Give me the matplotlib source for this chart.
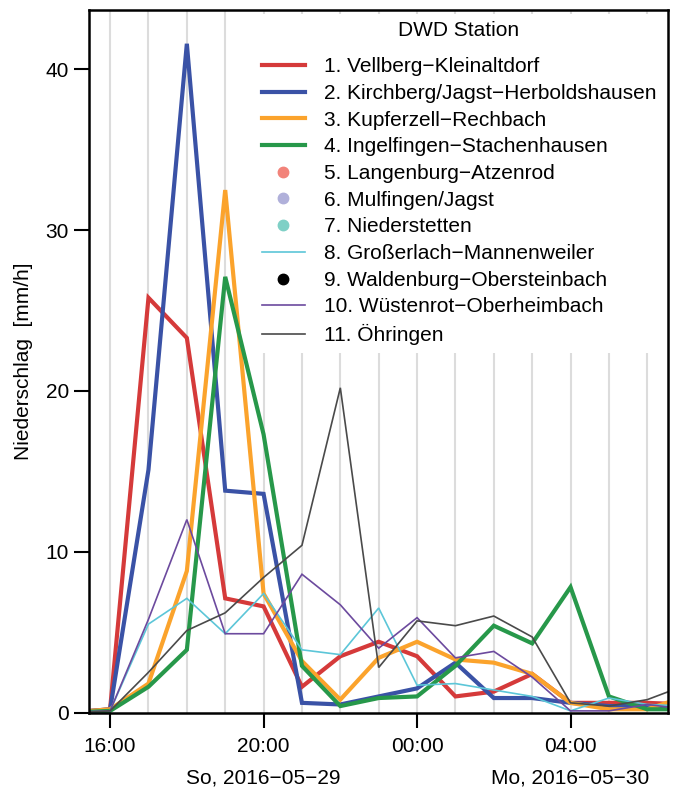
import matplotlib
matplotlib.use("Agg")
import matplotlib.pyplot as plt
import numpy as np

plt.rcParams['font.family'] = ['Liberation Sans', 'DejaVu Sans']

# hours since 2016-05-29 00:00, one value per hour
hours = list(range(15, 32))

vellberg     = [0.0, 0.2, 25.8, 23.3, 7.1, 6.6, 1.6, 3.5, 4.4, 3.5, 1.0, 1.3, 2.4, 0.6, 0.6, 0.6, 0.5]
kirchberg    = [0.0, 0.2, 15.1, 41.6, 13.8, 13.6, 0.6, 0.5, 1.0, 1.5, 3.1, 0.9, 0.9, 0.6, 0.4, 0.4, 0.4]
kupferzell   = [0.0, 0.2, 1.8, 8.8, 32.5, 7.4, 3.2, 0.8, 3.4, 4.4, 3.3, 3.1, 2.4, 0.6, 0.2, 0.2, 1.0]
ingelfingen  = [0.0, 0.1, 1.6, 3.9, 27.1, 17.3, 2.9, 0.4, 0.9, 1.0, 2.9, 5.4, 4.3, 7.8, 1.0, 0.2, 0.2]
langenburg   = []
mulfingen    = []
niederstetten = []
grosserlach  = [0.0, 0.1, 5.5, 7.1, 4.9, 7.4, 3.9, 3.6, 6.5, 1.7, 1.8, 1.4, 1.0, 0.1, 0.9, 0.5, 0.4]
waldenburg   = []
wuestenrot   = [0.0, 0.1, 5.8, 12.0, 4.9, 4.9, 8.6, 6.7, 4.0, 5.9, 3.4, 3.8, 2.2, 0.1, 0.1, 0.5, 0.2]
oehringen    = [0.0, 0.1, 2.5, 5.1, 6.2, 8.4, 10.4, 20.2, 2.8, 5.7, 5.4, 6.0, 4.7, 0.6, 0.4, 0.8, 1.7]

names = ["1. Vellberg\u2212Kleinaltdorf",
         "2. Kirchberg/Jagst\u2212Herboldshausen",
         "3. Kupferzell\u2212Rechbach",
         "4. Ingelfingen\u2212Stachenhausen",
         "5. Langenburg\u2212Atzenrod",
         "6. Mulfingen/Jagst",
         "7. Niederstetten",
         "8. Gro\u00dferlach\u2212Mannenweiler",
         "9. Waldenburg\u2212Obersteinbach",
         "10. W\u00fcstenrot\u2212Oberheimbach",
         "11. \u00d6hringen"]
series = [vellberg, kirchberg, kupferzell, ingelfingen, langenburg, mulfingen,
          niederstetten, grosserlach, waldenburg, wuestenrot, oehringen]
colors = ["#d53a3a", "#3a52a6", "#fba32c", "#27984a", "#f2837a", "#b0b0da",
          "#7fd0c6", "#5cc6d8", "#000000", "#6c4a9e", "#4a4a4a"]
widths = [3.0, 3.0, 3.0, 3.0, 0, 0, 0, 1.2, 0, 1.2, 1.2]

tick_hours = [16, 20, 24, 28]
tick_labels = ["16:00", "20:00", "00:00", "04:00"]
day_hours = [20, 28]
day_labels = ["So, 2016\u221205\u221229", "Mo, 2016\u221205\u221230"]

fs = 15

fig = plt.figure(figsize=(6.74, 7.94), dpi=100)
ax = fig.add_axes([89/674, 1 - 712.5/794, (668 - 89)/674, (712.5 - 10)/794])

for h in range(15, 32):
    ax.axvline(h, color="#dcdcdc", lw=1.5, zorder=0)

for vals, name, col, lw in zip(series, names, colors, widths):
    x = hours[:len(vals)]
    if lw > 0:
        ax.plot(x, vals, color=col, lw=lw, label=name, solid_joinstyle="miter")
    else:
        ax.plot(x, vals, color=col, ls="none", marker="o", ms=7.5, label=name)

ax.set_xlim(15.45, 30.54)
ax.set_ylim(0, 43.7)
ax.set_xticks(tick_hours)
ax.set_xticklabels(tick_labels)
ax.set_yticks([0, 10, 20, 30, 40])
ax.tick_params(axis="both", direction="out", length=10.5, width=1.5, labelsize=fs, color="black")
ax.tick_params(axis="x", pad=7)
ax.tick_params(axis="y", pad=4)
for s in ax.spines.values():
    s.set_linewidth(1.8)

ax.set_ylabel("Niederschlag  [mm/h]", fontsize=fs)
ax.yaxis.set_label_coords(-0.097, 0.5)

for h, lab in zip(day_hours, day_labels):
    ax.text(h, -0.093, lab, transform=ax.get_xaxis_transform(), ha="center", va="center", fontsize=fs)

leg = ax.legend(title="DWD Station", loc="upper right", fontsize=fs, title_fontsize=fs,
                frameon=True, framealpha=1, edgecolor="none", fancybox=False,
                handlelength=2.1, handletextpad=0.9, labelspacing=0.37,
                borderaxespad=0.2, borderpad=0.35)
leg.get_frame().set_linewidth(0)
# wider gap between the legend title and the first entry
leg._legend_box.sep = 12

fig.savefig("out.png", dpi=100)
